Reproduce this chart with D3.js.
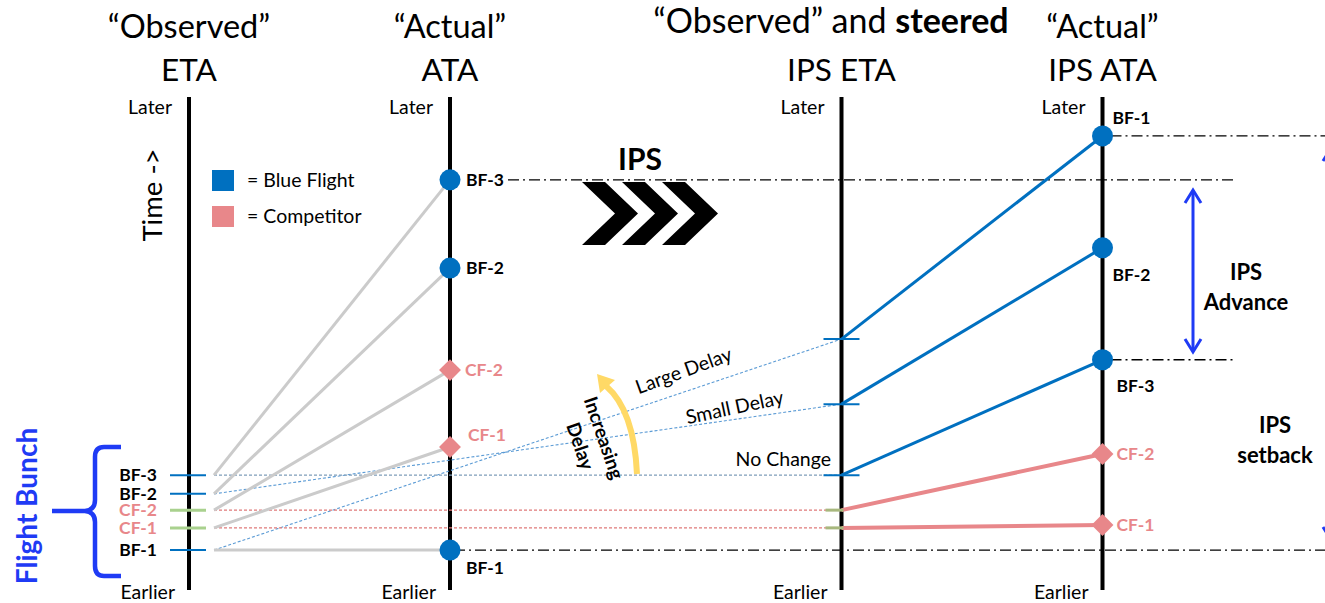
<!DOCTYPE html>
<html><head><meta charset="utf-8">
<script src="https://cdn.jsdelivr.net/npm/d3@7"></script>
<style>
html,body{margin:0;padding:0;background:#fff;}
svg{display:block;font-family:Lato,"Open Sans",sans-serif;}
</style></head>
<body>
<svg id="chart" width="1325" height="603"></svg>
<script>
// ---------- data ----------
const stages = ["ETA", "ATA", "IPS ETA", "IPS ATA"];
const stagePos = [0, 1, 2.5, 3.5];
const headerTop = ["\u201CObserved\u201D", "\u201CActual\u201D", null, "\u201CActual\u201D"];
const headerBottom = ["ETA", "ATA", "IPS ETA", "IPS ATA"];
const flights = ["BF-1", "BF-2", "BF-3", "CF-1", "CF-2"];
const flightType = ["blue", "blue", "blue", "comp", "comp"];
const etaTimes = [8.1, 19.5, 23.3, 12.6, 16.2];
const ataTimes = [8.1, 65.3, 83.2, 29.0, 44.6];
const ipsEtaTimes = [50.9, 37.7, 23.3, 12.6, 16.2];
const ipsAtaTimes = [92.1, 69.4, 46.7, 13.2, 27.6];
const delayLabels = ["Large Delay", "Small Delay", "No Change"];
const legendLabels = ["= Blue Flight", "= Competitor"];

// ---------- styles ----------
const BLUE = "#0070C0", PINK = "#E8878A", GRAY = "#CBCBCB", BRIGHT = "#1F3BF5", GREEN = "#A9D18E";
const col = t => t === "blue" ? BLUE : PINK;
const LBL = 17.5;

const svg = d3.select("#chart");
const x = d3.scaleLinear().domain([0, 3.5]).range([189, 1102.5]);
const y = d3.scaleLinear().domain([0, 100]).range([590, 97]);
const X = i => x(stagePos[i]);

// ---------- headers ----------
stages.forEach((s, i) => {
  if (headerTop[i]) svg.append("text").attr("x", X(i)).attr("y", 38).attr("text-anchor", "middle")
    .attr("font-size", 32.5).text(headerTop[i]);
  svg.append("text").attr("x", X(i)).attr("y", 81).attr("text-anchor", "middle")
    .attr("font-size", 31.5).text(headerBottom[i]);
});
const h3 = svg.append("text").attr("x", 831).attr("y", 33).attr("text-anchor", "middle").attr("font-size", 34);
h3.append("tspan").text("\u201CObserved\u201D and ");
h3.append("tspan").attr("font-weight", "bold").text("steered");

// ---------- axes ----------
stages.forEach((s, i) => {
  svg.append("line").attr("x1", X(i)).attr("x2", X(i)).attr("y1", y(100)).attr("y2", y(0))
    .attr("stroke", "#000").attr("stroke-width", 4);
  svg.append("text").attr("x", X(i) - 17).attr("y", 114).attr("text-anchor", "end")
    .attr("font-size", 19.5).text("Later");
  svg.append("text").attr("x", X(i) - 14).attr("y", 599).attr("text-anchor", "end")
    .attr("font-size", 19.5).text("Earlier");
});
svg.append("text").attr("transform", "translate(162,195) rotate(-90)").attr("text-anchor", "middle")
  .attr("font-size", 27.5).text("Time ->");

// legend
legendLabels.forEach((l, i) => {
  svg.append("rect").attr("x", 212).attr("y", 170 + i * 36).attr("width", 22).attr("height", 21)
    .attr("fill", i === 0 ? BLUE : PINK);
  svg.append("text").attr("x", 247).attr("y", 187 + i * 36).attr("font-size", 19.5).text(l);
});

// ---------- dash-dot reference lines ----------
const dd = "11,4,2,4";
function ddLine(x1, x2, yy) {
  svg.append("line").attr("x1", x1).attr("x2", x2).attr("y1", yy).attr("y2", yy)
    .attr("stroke", "#000").attr("stroke-width", 1.3).attr("stroke-dasharray", dd);
}
ddLine(X(1) + 58, 1235, y(ataTimes[2]));
ddLine(X(1) - 38, 1325, y(ataTimes[0]));
ddLine(X(3) + 8, 1325, y(ipsAtaTimes[0]));
ddLine(X(3) + 8, 1235, y(ipsAtaTimes[2]));

// ---------- ETA -> IPS ETA dashed projections ----------
flights.forEach((f, i) => {
  const isB = flightType[i] === "blue";
  svg.append("line").attr("x1", X(0) + 25).attr("y1", y(etaTimes[i]))
    .attr("x2", X(2)).attr("y2", y(ipsEtaTimes[i]))
    .attr("stroke", isB ? (i === 2 ? "#7F9DB9" : "#5B9BD5") : "#E07A7A")
    .attr("stroke-width", 1.1).attr("stroke-dasharray", "3,2");
});

// ---------- ETA -> ATA gray lines ----------
flights.forEach((f, i) => {
  svg.append("line").attr("x1", X(0) + 25).attr("y1", y(etaTimes[i]))
    .attr("x2", X(1)).attr("y2", y(ataTimes[i]))
    .attr("stroke", GRAY).attr("stroke-width", 3);
});

// ETA ticks
flights.forEach((f, i) => {
  const isB = flightType[i] === "blue";
  svg.append("line").attr("x1", X(0) - 19).attr("x2", X(0) + 17)
    .attr("y1", y(etaTimes[i])).attr("y2", y(etaTimes[i]))
    .attr("stroke", isB ? BLUE : GREEN).attr("stroke-width", isB ? 2 : 3);
  svg.append("text").attr("x", X(0) - 32).attr("y", y(etaTimes[i])).attr("dy", "0.35em")
    .attr("text-anchor", "end").attr("font-size", LBL).attr("font-weight", "bold")
    .attr("fill", isB ? "#000" : PINK).text(f);
});

// ---------- IPS ETA -> IPS ATA lines ----------
flights.forEach((f, i) => {
  const isB = flightType[i] === "blue";
  svg.append("line").attr("x1", X(2)).attr("y1", y(ipsEtaTimes[i]))
    .attr("x2", X(3)).attr("y2", y(ipsAtaTimes[i]))
    .attr("stroke", col(flightType[i])).attr("stroke-width", isB ? 3 : 4);
  svg.append("line").attr("x1", X(2) - (isB ? 18 : 16)).attr("x2", X(2) + (isB ? 18 : 2))
    .attr("y1", y(ipsEtaTimes[i])).attr("y2", y(ipsEtaTimes[i]))
    .attr("stroke", isB ? BLUE : "#A8B87E").attr("stroke-width", isB ? 2 : 3);
});

// markers
function marker(cx, cy, type) {
  if (type === "blue") {
    svg.append("circle").attr("cx", cx).attr("cy", cy).attr("r", 10.5).attr("fill", BLUE);
  } else {
    svg.append("path").attr("d", d3.symbol(d3.symbolSquare, 240)())
      .attr("transform", `translate(${cx},${cy}) rotate(45)`).attr("fill", PINK);
  }
}
flights.forEach((f, i) => {
  marker(X(1), y(ataTimes[i]), flightType[i]);
  marker(X(3), y(ipsAtaTimes[i]), flightType[i]);
});

// ATA labels
const ataLabelDx = [16, 16, 16, 18, 15];
const ataLabelDy = [18, 0, 0, -12, 0];
flights.forEach((f, i) => {
  const isB = flightType[i] === "blue";
  svg.append("text").attr("x", X(1) + ataLabelDx[i]).attr("y", y(ataTimes[i]) + ataLabelDy[i])
    .attr("dy", "0.35em").attr("font-size", LBL).attr("font-weight", "bold")
    .attr("fill", isB ? "#000" : PINK).text(f);
});
// IPS ATA labels
const ipsLabelDx = [10, 10, 14, 14, 14];
const ipsLabelDy = [-18, 27, 26, 0, 0];
flights.forEach((f, i) => {
  const isB = flightType[i] === "blue";
  svg.append("text").attr("x", X(3) + ipsLabelDx[i]).attr("y", y(ipsAtaTimes[i]) + ipsLabelDy[i])
    .attr("dy", "0.35em").attr("font-size", LBL).attr("font-weight", "bold")
    .attr("fill", isB ? "#000" : PINK).text(f);
});

// delay labels
svg.append("text").attr("transform", "translate(686,377) rotate(-20)").attr("text-anchor", "middle")
  .attr("font-size", 19.5).text(delayLabels[0]);
svg.append("text").attr("transform", "translate(736,414) rotate(-12)").attr("text-anchor", "middle")
  .attr("font-size", 19.5).text(delayLabels[1]);
svg.append("text").attr("x", 831).attr("y", 466).attr("text-anchor", "end")
  .attr("font-size", 19.5).text(delayLabels[2]);

// Increasing delay
const inc = svg.append("g").attr("transform", "translate(592,442) rotate(71)");
inc.append("text").attr("y", -12.5).attr("dy", "0.35em").attr("text-anchor", "middle")
  .attr("font-size", 19).attr("font-weight", "bold").text("Increasing");
inc.append("text").attr("y", 12.5).attr("dy", "0.35em").attr("text-anchor", "middle")
  .attr("font-size", 19).attr("font-weight", "bold").text("Delay");
svg.append("path").attr("d", "M637,474 Q634,410 606,386").attr("fill", "none")
  .attr("stroke", "#FFD966").attr("stroke-width", 6);
svg.append("path").attr("d", "M597,374 L615,380 L600,393 Z").attr("fill", "#FFD966");

// IPS chevrons
svg.append("text").attr("x", 640).attr("y", 170).attr("text-anchor", "middle")
  .attr("font-size", 30).attr("font-weight", "bold").text("IPS");
[0, 1, 2].forEach(k => {
  const o = k * 40;
  svg.append("path").attr("d",
    `M${582 + o},182 L${605 + o},182 L${638 + o},213.5 L${605 + o},245 L${582 + o},245 L${615 + o},213.5 Z`)
    .attr("fill", "#000");
});

// Flight bunch brace
svg.append("path").attr("d",
  "M121,447 L104,447 Q95,447 95,457 L95,500 Q95,510 85,511 L52,511 M85,511 Q95,512 95,522 L95,566 Q95,576 104,576 L121,576")
  .attr("fill", "none").attr("stroke", BRIGHT).attr("stroke-width", 4.5);
svg.append("text").attr("transform", "translate(37,506) rotate(-90)").attr("text-anchor", "middle")
  .attr("font-size", 28).attr("font-weight", "bold").attr("fill", BRIGHT).text("Flight Bunch");

// arrows
function dblArrow(ax, y1, y2) {
  svg.append("line").attr("x1", ax).attr("x2", ax).attr("y1", y1 + 2).attr("y2", y2 - 2)
    .attr("stroke", BRIGHT).attr("stroke-width", 3);
  svg.append("path").attr("d", `M${ax - 8},${y1 + 13} L${ax},${y1} L${ax + 8},${y1 + 13}`)
    .attr("fill", "none").attr("stroke", BRIGHT).attr("stroke-width", 3);
  svg.append("path").attr("d", `M${ax - 8},${y2 - 13} L${ax},${y2} L${ax + 8},${y2 - 13}`)
    .attr("fill", "none").attr("stroke", BRIGHT).attr("stroke-width", 3);
}
dblArrow(1193, 190, 352);
dblArrow(1331, 148, 540);

svg.append("text").attr("x", 1246).attr("y", 280).attr("text-anchor", "middle")
  .attr("font-size", 22).attr("font-weight", "bold").text("IPS");
svg.append("text").attr("x", 1246).attr("y", 310).attr("text-anchor", "middle")
  .attr("font-size", 22).attr("font-weight", "bold").text("Advance");
svg.append("text").attr("x", 1275).attr("y", 433).attr("text-anchor", "middle")
  .attr("font-size", 22).attr("font-weight", "bold").text("IPS");
svg.append("text").attr("x", 1275).attr("y", 463).attr("text-anchor", "middle")
  .attr("font-size", 22).attr("font-weight", "bold").text("setback");
</script>
</body></html>
